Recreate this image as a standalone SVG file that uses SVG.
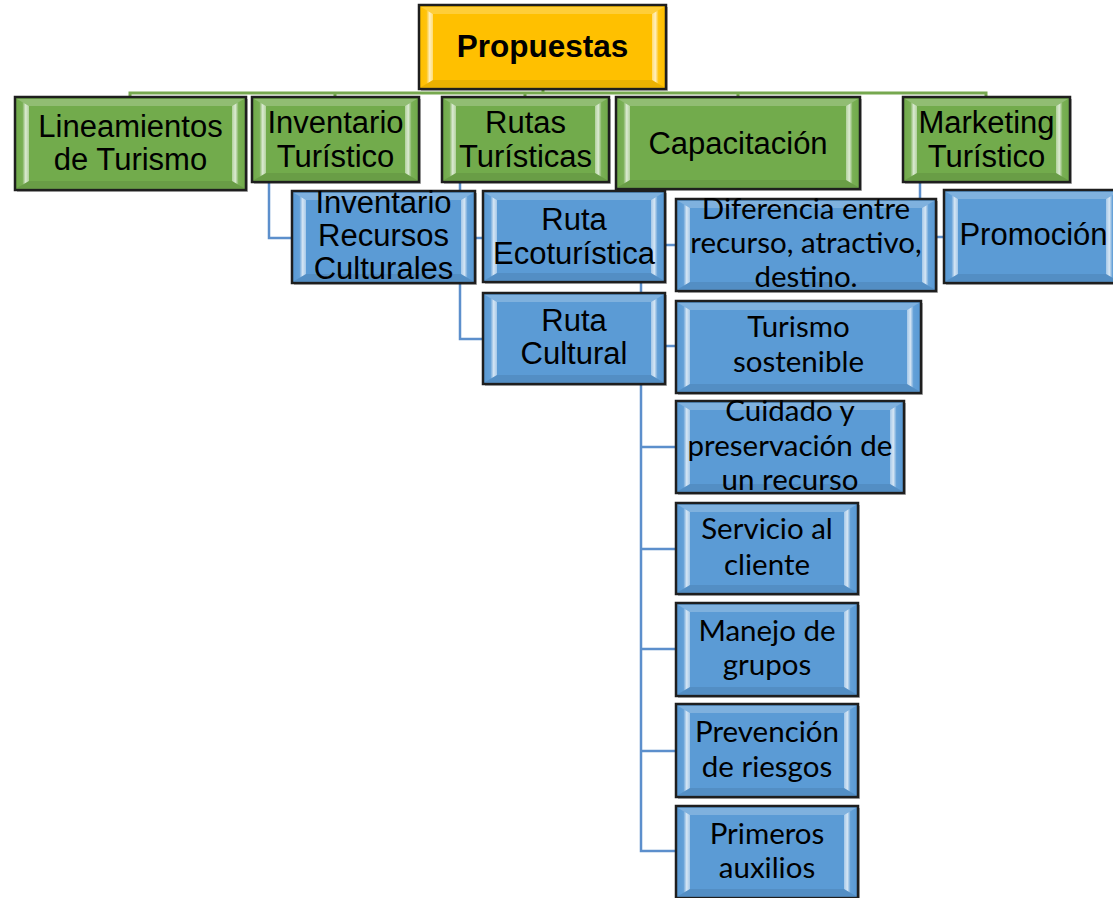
<svg xmlns="http://www.w3.org/2000/svg" width="1113" height="898" viewBox="0 0 1113 898">
<defs>
<linearGradient id="gl" x1="0" y1="0" x2="1" y2="0">
<stop offset="0" stop-color="#fff" stop-opacity="0"/>
<stop offset="0.45" stop-color="#fff" stop-opacity="0.05"/>
<stop offset="0.72" stop-color="#fff" stop-opacity="0.75"/>
<stop offset="1" stop-color="#fff" stop-opacity="0.45"/>
</linearGradient>
<linearGradient id="gr" x1="1" y1="0" x2="0" y2="0">
<stop offset="0" stop-color="#fff" stop-opacity="0"/>
<stop offset="0.45" stop-color="#fff" stop-opacity="0.05"/>
<stop offset="0.72" stop-color="#fff" stop-opacity="0.75"/>
<stop offset="1" stop-color="#fff" stop-opacity="0.45"/>
</linearGradient>
<style>
.sh{fill:#000;opacity:.28}
.box{stroke:#1e1e1e;stroke-width:2.5}
.yellow .box{fill:#FFC000}
.green .box{fill:#72AB4C}
.blue .box{fill:#5B9BD5}
.fl{fill:url(#gl)}
.fr{fill:url(#gr)}
.ft{fill:#fff;opacity:.22}
.fb{fill:#000;opacity:.08}
.ta{font-family:"Liberation Sans",Arial,sans-serif;font-size:31px;fill:#000;text-anchor:middle}
.tb{font-family:"Liberation Sans",Arial,sans-serif;font-size:31.5px;font-weight:bold;fill:#000;text-anchor:middle}
.tc{font-family:Lato,"Noto Sans",sans-serif;font-size:29.5px;fill:#000;text-anchor:middle}
.cg{fill:none;stroke:#76A84F;stroke-width:3}
.cb{fill:none;stroke:#5C8FCC;stroke-width:2.5}
</style>
</defs>
<g id="connectors">
<path class="cg" d="M543,89 V93 M130,97 V93 H986 V97 M335,93 V97 M525,93 V97 M738,93 V97"/>
<path class="cb" d="M269,182 V238 H292"/>
<path class="cb" d="M460,182 V339 H483 M460,238 H483"/>
<path class="cb" d="M641,189 V851 H676 M641,245 H676 M641,346 H676 M641,447 H676 M641,549 H676 M641,649 H676 M641,751 H676"/>
<path class="cb" d="M920,182 V237 H944"/>
</g>
<g id="n-propuestas" class="yellow">
<rect class="sh" x="421" y="7" width="247" height="84"/>
<rect class="box" x="419" y="5" width="247" height="84"/>
<polygon class="fl" points="421,7 433,14 433,80 421,87"/>
<polygon class="fr" points="664,7 652,14 652,80 664,87"/>
<polygon class="ft" points="421,7 664,7 652,14 433,14"/>
<polygon class="fb" points="421,87 664,87 652,80 433,80"/>
<text class="tb" x="542.5" y="57">Propuestas</text>
</g>
<g id="n-lineamientos" class="green">
<rect class="sh" x="17" y="99" width="231" height="93"/>
<rect class="box" x="15" y="97" width="231" height="93"/>
<polygon class="fl" points="17,99 29,106 29,181 17,188"/>
<polygon class="fr" points="244,99 232,106 232,181 244,188"/>
<polygon class="ft" points="17,99 244,99 232,106 29,106"/>
<polygon class="fb" points="17,188 244,188 232,181 29,181"/>
<text class="ta" x="130.5" y="137">Lineamientos</text>
<text class="ta" x="130.5" y="169.5">de Turismo</text>
</g>
<g id="n-inventario" class="green">
<rect class="sh" x="254" y="99" width="167" height="85"/>
<rect class="box" x="252" y="97" width="167" height="85"/>
<polygon class="fl" points="254,99 266,106 266,173 254,180"/>
<polygon class="fr" points="417,99 405,106 405,173 417,180"/>
<polygon class="ft" points="254,99 417,99 405,106 266,106"/>
<polygon class="fb" points="254,180 417,180 405,173 266,173"/>
<text class="ta" x="335.5" y="133">Inventario</text>
<text class="ta" x="335.5" y="166.5">Turístico</text>
</g>
<g id="n-rutas" class="green">
<rect class="sh" x="444" y="99" width="167" height="85"/>
<rect class="box" x="442" y="97" width="167" height="85"/>
<polygon class="fl" points="444,99 456,106 456,173 444,180"/>
<polygon class="fr" points="607,99 595,106 595,173 607,180"/>
<polygon class="ft" points="444,99 607,99 595,106 456,106"/>
<polygon class="fb" points="444,180 607,180 595,173 456,173"/>
<text class="ta" x="525.5" y="133">Rutas</text>
<text class="ta" x="525.5" y="166.5">Turísticas</text>
</g>
<g id="n-capacitacion" class="green">
<rect class="sh" x="618" y="99" width="244" height="92"/>
<rect class="box" x="616" y="97" width="244" height="92"/>
<polygon class="fl" points="618,99 630,106 630,180 618,187"/>
<polygon class="fr" points="858,99 846,106 846,180 858,187"/>
<polygon class="ft" points="618,99 858,99 846,106 630,106"/>
<polygon class="fb" points="618,187 858,187 846,180 630,180"/>
<text class="ta" x="738" y="154">Capacitación</text>
</g>
<g id="n-marketing" class="green">
<rect class="sh" x="905" y="99" width="167" height="85"/>
<rect class="box" x="903" y="97" width="167" height="85"/>
<polygon class="fl" points="905,99 917,106 917,173 905,180"/>
<polygon class="fr" points="1068,99 1056,106 1056,173 1068,180"/>
<polygon class="ft" points="905,99 1068,99 1056,106 917,106"/>
<polygon class="fb" points="905,180 1068,180 1056,173 917,173"/>
<text class="ta" x="986.5" y="133">Marketing</text>
<text class="ta" x="986.5" y="166.5">Turístico</text>
</g>
<g id="n-recursos-culturales" class="blue">
<rect class="sh" x="294" y="193" width="183" height="92"/>
<rect class="box" x="292" y="191" width="183" height="92"/>
<polygon class="fl" points="294,193 306,200 306,274 294,281"/>
<polygon class="fr" points="473,193 461,200 461,274 473,281"/>
<polygon class="ft" points="294,193 473,193 461,200 306,200"/>
<polygon class="fb" points="294,281 473,281 461,274 306,274"/>
<text class="ta" x="383.5" y="212.5">Inventario</text>
<text class="ta" x="383.5" y="245.5">Recursos</text>
<text class="ta" x="383.5" y="278.5">Culturales</text>
</g>
<g id="n-ruta-eco" class="blue">
<rect class="sh" x="485" y="193" width="182" height="91"/>
<rect class="box" x="483" y="191" width="182" height="91"/>
<polygon class="fl" points="485,193 497,200 497,273 485,280"/>
<polygon class="fr" points="663,193 651,200 651,273 663,280"/>
<polygon class="ft" points="485,193 663,193 651,200 497,200"/>
<polygon class="fb" points="485,280 663,280 651,273 497,273"/>
<text class="ta" x="574" y="230">Ruta</text>
<text class="ta" x="574" y="263.5">Ecoturística</text>
</g>
<g id="n-ruta-cultural" class="blue">
<rect class="sh" x="485" y="295" width="182" height="91"/>
<rect class="box" x="483" y="293" width="182" height="91"/>
<polygon class="fl" points="485,295 497,302 497,375 485,382"/>
<polygon class="fr" points="663,295 651,302 651,375 663,382"/>
<polygon class="ft" points="485,295 663,295 651,302 497,302"/>
<polygon class="fb" points="485,382 663,382 651,375 497,375"/>
<text class="ta" x="574" y="331">Ruta</text>
<text class="ta" x="574" y="364">Cultural</text>
</g>
<g id="n-diferencia" class="blue">
<rect class="sh" x="678" y="201" width="260" height="92"/>
<rect class="box" x="676" y="199" width="260" height="92"/>
<polygon class="fl" points="678,201 690,208 690,282 678,289"/>
<polygon class="fr" points="934,201 922,208 922,282 934,289"/>
<polygon class="ft" points="678,201 934,201 922,208 690,208"/>
<polygon class="fb" points="678,289 934,289 922,282 690,282"/>
<text class="tc" x="806" y="218.5">Diferencia entre</text>
<text class="tc" x="806" y="252.5">recurso, atractivo,</text>
<text class="tc" x="806" y="287">destino.</text>
</g>
<g id="n-promocion" class="blue">
<rect class="sh" x="946" y="192" width="176" height="93"/>
<rect class="box" x="944" y="190" width="176" height="93"/>
<polygon class="fl" points="946,192 958,199 958,274 946,281"/>
<polygon class="fr" points="1118,192 1106,199 1106,274 1118,281"/>
<polygon class="ft" points="946,192 1118,192 1106,199 958,199"/>
<polygon class="fb" points="946,281 1118,281 1106,274 958,274"/>
<text class="ta" x="1033.5" y="245">Promoción</text>
</g>
<g id="n-turismo-sostenible" class="blue">
<rect class="sh" x="678" y="303" width="245" height="92"/>
<rect class="box" x="676" y="301" width="245" height="92"/>
<polygon class="fl" points="678,303 690,310 690,384 678,391"/>
<polygon class="fr" points="919,303 907,310 907,384 919,391"/>
<polygon class="ft" points="678,303 919,303 907,310 690,310"/>
<polygon class="fb" points="678,391 919,391 907,384 690,384"/>
<text class="tc" x="798.5" y="337">Turismo</text>
<text class="tc" x="798.5" y="372">sostenible</text>
</g>
<g id="n-cuidado" class="blue">
<rect class="sh" x="678" y="403" width="228" height="92"/>
<rect class="box" x="676" y="401" width="228" height="92"/>
<polygon class="fl" points="678,403 690,410 690,484 678,491"/>
<polygon class="fr" points="902,403 890,410 890,484 902,491"/>
<polygon class="ft" points="678,403 902,403 890,410 690,410"/>
<polygon class="fb" points="678,491 902,491 890,484 690,484"/>
<text class="tc" x="790" y="421">Cuidado y</text>
<text class="tc" x="790" y="456">preservación de</text>
<text class="tc" x="790" y="489.5">un recurso</text>
</g>
<g id="n-servicio" class="blue">
<rect class="sh" x="678" y="505" width="182" height="91"/>
<rect class="box" x="676" y="503" width="182" height="91"/>
<polygon class="fl" points="678,505 690,512 690,585 678,592"/>
<polygon class="fr" points="856,505 844,512 844,585 856,592"/>
<polygon class="ft" points="678,505 856,505 844,512 690,512"/>
<polygon class="fb" points="678,592 856,592 844,585 690,585"/>
<text class="tc" x="767" y="538.5">Servicio al</text>
<text class="tc" x="767" y="574.5">cliente</text>
</g>
<g id="n-manejo" class="blue">
<rect class="sh" x="678" y="605" width="182" height="93"/>
<rect class="box" x="676" y="603" width="182" height="93"/>
<polygon class="fl" points="678,605 690,612 690,687 678,694"/>
<polygon class="fr" points="856,605 844,612 844,687 856,694"/>
<polygon class="ft" points="678,605 856,605 844,612 690,612"/>
<polygon class="fb" points="678,694 856,694 844,687 690,687"/>
<text class="tc" x="767" y="641">Manejo de</text>
<text class="tc" x="767" y="675">grupos</text>
</g>
<g id="n-prevencion" class="blue">
<rect class="sh" x="678" y="706" width="182" height="93"/>
<rect class="box" x="676" y="704" width="182" height="93"/>
<polygon class="fl" points="678,706 690,713 690,788 678,795"/>
<polygon class="fr" points="856,706 844,713 844,788 856,795"/>
<polygon class="ft" points="678,706 856,706 844,713 690,713"/>
<polygon class="fb" points="678,795 856,795 844,788 690,788"/>
<text class="tc" x="767" y="742">Prevención</text>
<text class="tc" x="767" y="777">de riesgos</text>
</g>
<g id="n-primeros" class="blue">
<rect class="sh" x="678" y="808" width="182" height="92"/>
<rect class="box" x="676" y="806" width="182" height="92"/>
<polygon class="fl" points="678,808 690,815 690,889 678,896"/>
<polygon class="fr" points="856,808 844,815 844,889 856,896"/>
<polygon class="ft" points="678,808 856,808 844,815 690,815"/>
<polygon class="fb" points="678,896 856,896 844,889 690,889"/>
<text class="tc" x="767" y="843.5">Primeros</text>
<text class="tc" x="767" y="877.5">auxilios</text>
</g>
</svg>
